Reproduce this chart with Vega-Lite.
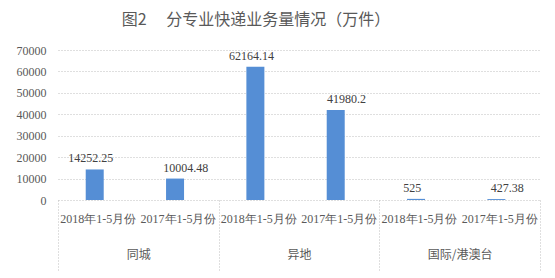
{
  "$schema": "https://vega.github.io/schema/vega-lite/v6.json",
  "width": 482,
  "height": 150,
  "autosize": {"type": "none"},
  "padding": {"left": 58, "top": 50, "right": 15, "bottom": 78},
  "background": "white",
  "title": {
    "text": "图2　  分专业快递业务量情况（万件）",
    "font": "Noto Sans CJK SC",
    "fontSize": 16,
    "fontWeight": "normal",
    "color": "#595959",
    "anchor": "middle",
    "dx": -43,
    "offset": 16
  },
  "data": {
    "values": [
      {"group": "同城", "year": "2018年1-5月份", "cat": "同城|2018年1-5月份", "value": 14252.25},
      {"group": "同城", "year": "2017年1-5月份", "cat": "同城|2017年1-5月份", "value": 10004.48},
      {"group": "异地", "year": "2018年1-5月份", "cat": "异地|2018年1-5月份", "value": 62164.14},
      {"group": "异地", "year": "2017年1-5月份", "cat": "异地|2017年1-5月份", "value": 41980.2},
      {"group": "国际/港澳台", "year": "2018年1-5月份", "cat": "国际/港澳台|2018年1-5月份", "value": 525},
      {"group": "国际/港澳台", "year": "2017年1-5月份", "cat": "国际/港澳台|2017年1-5月份", "value": 427.38}
    ]
  },
  "layer": [
    {
      "mark": {"type": "bar", "color": "#558ED5"},
      "encoding": {
        "x": {
          "field": "cat",
          "type": "nominal",
          "sort": null,
          "scale": {"paddingInner": 0.69, "paddingOuter": 0.345},
          "axis": {
            "title": null,
            "orient": "bottom",
            "labelExpr": "split(datum.value, '|')[1]",
            "labelAngle": 0,
            "labelOverlap": false,
            "labelFont": "Liberation Serif",
            "labelFontSize": 12,
            "labelColor": "#595959",
            "labelPadding": 13,
            "ticks": false,
            "domain": false,
            "grid": false
          }
        },
        "y": {
          "field": "value",
          "type": "quantitative",
          "scale": {"domain": [0, 70000], "nice": false},
          "axis": {
            "title": null,
            "orient": "left",
            "values": [0, 10000, 20000, 30000, 40000, 50000, 60000, 70000],
            "format": "d",
            "labelOverlap": false,
            "labelFont": "Liberation Serif",
            "labelFontSize": 12,
            "labelColor": "#595959",
            "labelPadding": 12,
            "ticks": false,
            "domain": false,
            "grid": true,
            "gridColor": "#BFBFBF",
            "gridDash": [1, 2],
            "gridWidth": 1
          }
        }
      }
    },
    {
      "mark": {"type": "text", "baseline": "bottom", "dy": -4, "font": "Liberation Serif", "fontSize": 12, "color": "#404040"},
      "encoding": {
        "x": {
          "field": "group",
          "type": "nominal",
          "sort": null,
          "scale": {"paddingInner": 0, "paddingOuter": 0},
          "axis": {
            "title": null,
            "orient": "bottom",
            "labelAngle": 0,
            "labelFont": "Noto Sans CJK SC",
            "labelFontSize": 12,
            "labelColor": "#595959",
            "labelPadding": -21,
            "ticks": true,
            "tickBand": "extent",
            "tickExtra": true,
            "tickSize": 70,
            "tickColor": "#BFBFBF",
            "tickDash": [1, 2],
            "tickWidth": 1,
            "domain": false,
            "grid": false
          }
        },
        "xOffset": {
          "field": "year",
          "type": "nominal",
          "sort": null,
          "scale": {"paddingInner": 0.69, "paddingOuter": 0.345}
        },
        "y": {"field": "value", "type": "quantitative", "axis": null},
        "text": {"field": "value", "type": "quantitative", "format": "~f"}
      }
    }
  ],
  "resolve": {
    "scale": {"x": "independent", "y": "shared"},
    "axis": {"x": "independent", "y": "independent"}
  },
  "config": {"view": {"stroke": null}}
}
